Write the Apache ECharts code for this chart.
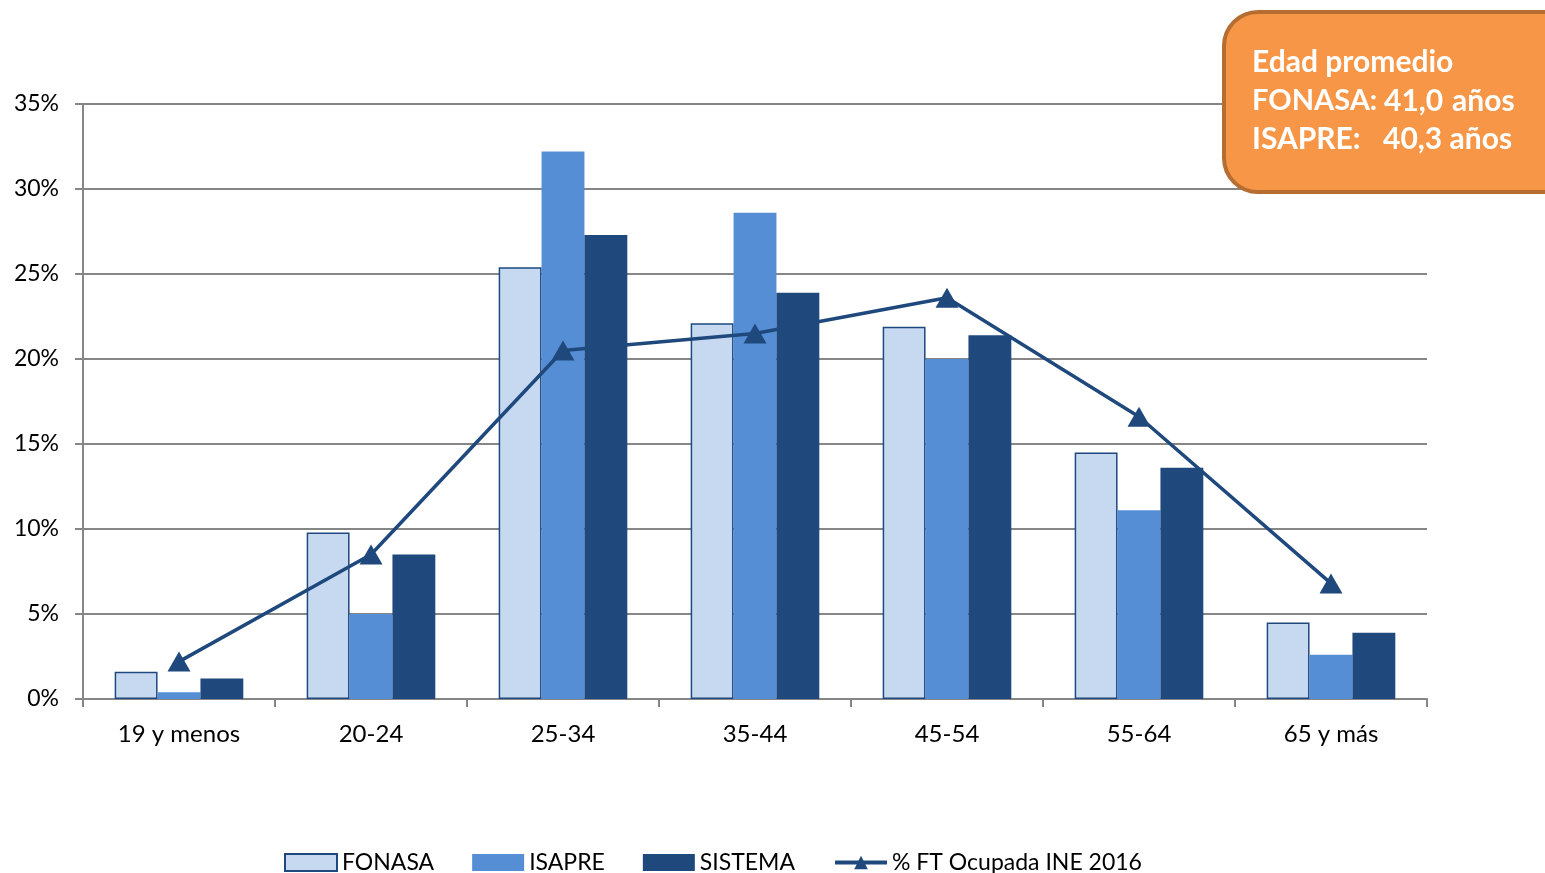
<!DOCTYPE html>
<html>
<head>
<meta charset="utf-8">
<script src="https://cdn.jsdelivr.net/npm/echarts@6/dist/echarts.min.js"></script>
<style>
html,body{margin:0;padding:0;background:#fff;}
#chart{width:1545px;height:873px;}
</style>
</head>
<body>
<div id="chart"></div>
<script>
const categories = ['19 y menos','20-24','25-34','35-44','45-54','55-64','65 y más'];
const fonasa  = [1.6, 9.8, 25.4, 22.1, 21.9, 14.5, 4.5];
const isapre  = [0.4, 5.0, 32.2, 28.6, 20.0, 11.1, 2.6];
const sistema = [1.2, 8.5, 27.3, 23.9, 21.4, 13.6, 3.9];
const ineFT   = [2.2, 8.5, 20.5, 21.5, 23.6, 16.6, 6.8];
const seriesNames = ['FONASA','ISAPRE','SISTEMA','% FT Ocupada INE 2016'];
const boxTitle = 'Edad promedio';
const boxRows = [['FONASA:','41,0','años'],['ISAPRE:','40,3','años']];

const FONT = 'Lato';
const chart = echarts.init(document.getElementById('chart'));
const bar = (name, data, color, border) => ({
  name, type:'bar', data, barGap:'0%', barCategoryGap:'33%',
  itemStyle:{color, borderColor: border || color, borderWidth: border ? 1.5 : 0},
  z:2
});
chart.setOption({
  animation:false,
  grid:{left:83, right:118, top:104, bottom:174, containLabel:false},
  legend:{
    bottom:-6, left:279,
    itemWidth:52, itemHeight:17, itemGap:38,
    textStyle:{fontFamily:FONT, fontSize:23, color:'#000'},
    data:[
      {name:seriesNames[0], icon:'rect'},
      {name:seriesNames[1], icon:'rect'},
      {name:seriesNames[2], icon:'rect'},
      {name:seriesNames[3], lineStyle:{width:4}}
    ]
  },
  xAxis:{
    type:'category', data:categories,
    axisLine:{lineStyle:{color:'#868686', width:2}},
    axisTick:{show:true, length:8, lineStyle:{color:'#868686', width:2}},
    axisLabel:{fontFamily:FONT, fontSize:24, color:'#000', margin:23}
  },
  yAxis:{
    type:'value', min:0, max:35, interval:5,
    axisLine:{show:true, lineStyle:{color:'#868686', width:2}},
    axisTick:{show:true, length:8, lineStyle:{color:'#868686', width:2}},
    axisLabel:{fontFamily:FONT, fontSize:23, color:'#000', margin:24, formatter:'{value}%'},
    splitLine:{lineStyle:{color:'#868686', width:2}}
  },
  series:[
    bar(seriesNames[0], fonasa, '#C6D9F1', '#1F497D'),
    bar(seriesNames[1], isapre, '#558ED5'),
    bar(seriesNames[2], sistema, '#1F497D'),
    {
      name:seriesNames[3], type:'line', data:ineFT,
      symbol:'triangle', symbolSize:[23,20],
      lineStyle:{color:'#1F497D', width:3.5},
      itemStyle:{color:'#1F497D'},
      z:5
    }
  ],
  graphic:[
    {type:'rect', left:1222, top:10, z:100,
     shape:{width:360, height:180, r:34},
     style:{fill:'#F79646', stroke:'#B66D31', lineWidth:4}},
    {type:'text', left:1252, top:47, z:101,
     style:{text:boxTitle, fill:'#fff', font:'bold 30px '+FONT}},
    {type:'text', left:1252, top:86, z:101,
     style:{text:boxRows[0][0], fill:'#fff', font:'bold 29px '+FONT}},
    {type:'text', left:1384, top:86, z:101,
     style:{text:boxRows[0][1], fill:'#fff', font:'bold 30px '+FONT}},
    {type:'text', left:1452, top:86, z:101,
     style:{text:boxRows[0][2], fill:'#fff', font:'bold 30px '+FONT}},
    {type:'text', left:1252, top:124, z:101,
     style:{text:boxRows[1][0], fill:'#fff', font:'bold 30px '+FONT}},
    {type:'text', left:1383, top:124, z:101,
     style:{text:boxRows[1][1]+' '+boxRows[1][2], fill:'#fff', font:'bold 30px '+FONT}}
  ]
});
</script>
</body>
</html>
